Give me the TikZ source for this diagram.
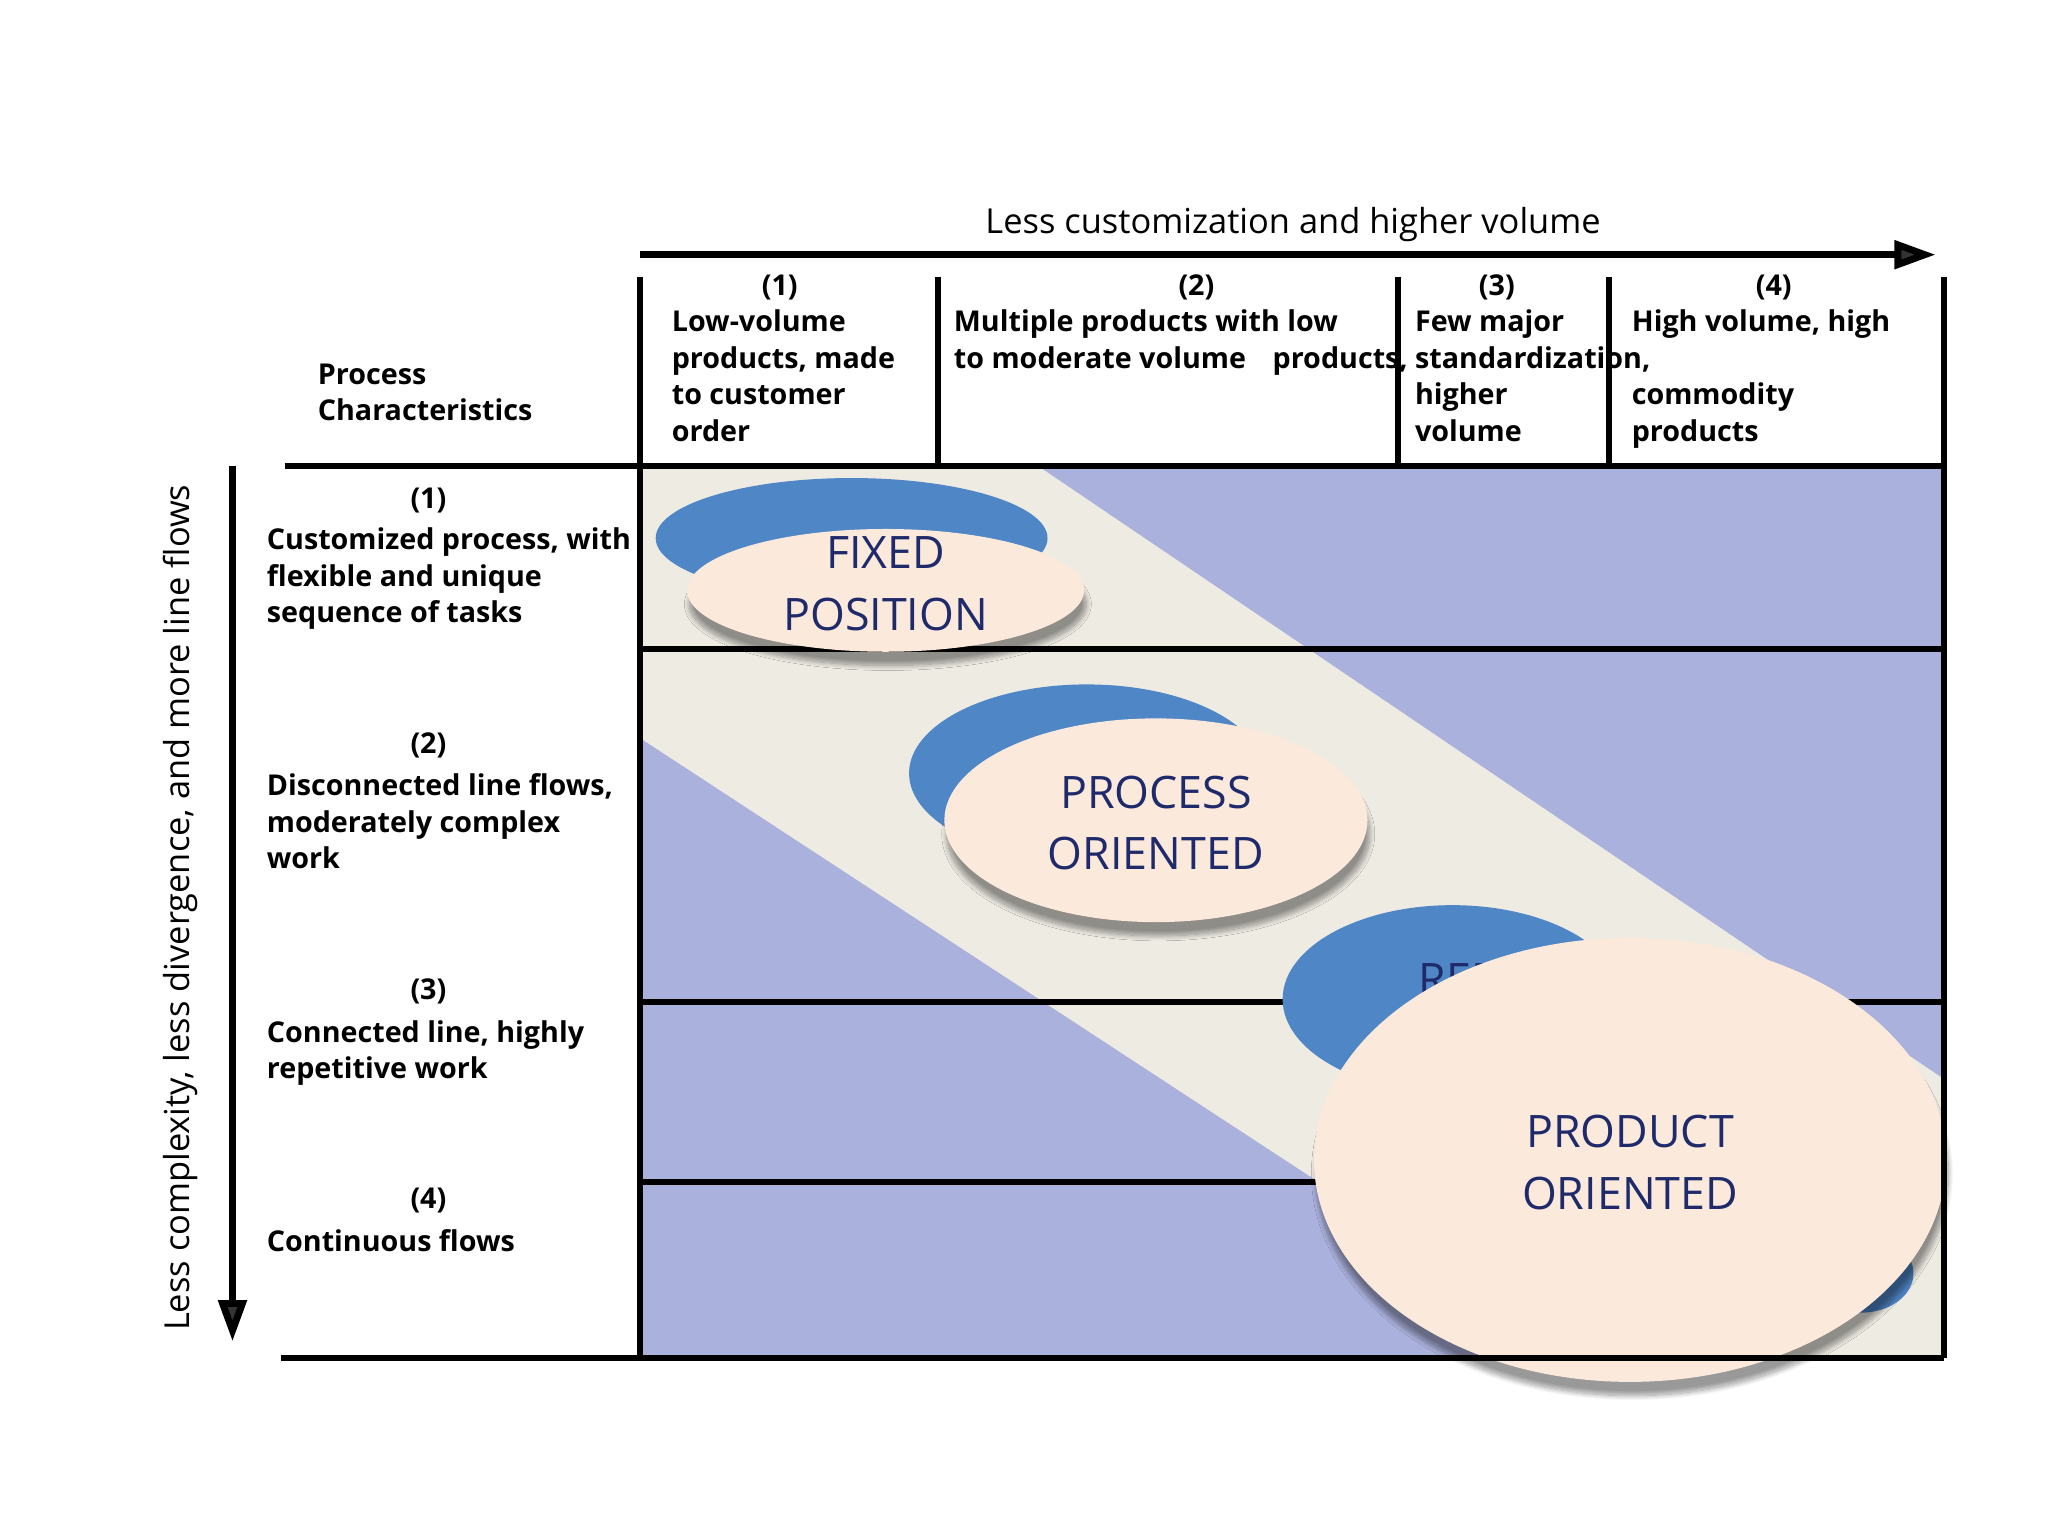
\documentclass[tikz,border=0pt]{standalone}
\usepackage{fontspec}
\setmainfont{Open Sans}
\usetikzlibrary{shadows.blur,arrows.meta}
\definecolor{bluefill}{HTML}{AAB1DD}
\definecolor{band}{HTML}{EEEBE3}
\definecolor{disc}{HTML}{4F86C6}
\definecolor{peach}{HTML}{FBE9DC}
\definecolor{navy}{HTML}{1F2A6B}
\begin{document}
\begin{tikzpicture}[x=0.02cm,y=-0.02cm,
  hd/.style={font=\fontsize{12.5}{15.9}\selectfont\bfseries,align=left,anchor=north west,inner sep=0},
  num/.style={font=\fontsize{12.5}{15.9}\selectfont\bfseries,anchor=base,inner sep=0},
  big/.style={font=\fontsize{19.5}{26.7}\selectfont,text=navy,align=center},
  rule/.style={line width=2.6pt},
  backdisc/.style={fill=disc,draw=none},
  frontdisc/.style={fill=peach,draw=none,blur shadow={shadow blur steps=12,shadow xshift=1pt,shadow yshift=-6pt}}]
\useasboundingbox (0,0) rectangle (1568,1176);
% background region
\fill[bluefill] (490,357) rectangle (1488,1040);
\begin{scope}
\clip (490,357) rectangle (1488,1040);
\fill[band] (490,357) -- (795,357) -- (1488,826) -- (1488,1040) -- (1216,1040) -- (490,565) -- cycle;
\end{scope}
% grid lines
\draw[rule] (490,497) -- (1488,497);
\draw[rule] (490,767) -- (1488,767);
\draw[rule] (490,905) -- (1488,905);
% discs
\fill[backdisc] (652,412) ellipse (150 and 46);
\fill[frontdisc] (678,452) ellipse (152 and 47);
\node[big] (fp) at (678,447) {FIXED\\POSITION};
\fill[backdisc] (832,592) ellipse (136 and 68);
\fill[frontdisc] (885,628) ellipse (162 and 78);
\node[big] (po) at (885,630) {PROCESS\\ORIENTED};
\fill[backdisc] (1112,765) ellipse (130 and 72);
\node[big,anchor=west] (re) at (1080,750) {REPETITIVE};
\fill[backdisc] (1425,975) ellipse (40 and 30);
\fill[frontdisc] (1248,888) ellipse (242 and 170);
\node[big] (pr) at (1248,890) {PRODUCT\\ORIENTED};
% frame
\draw[rule] (490,212) -- (490,1040);
\draw[rule] (1488,212) -- (1488,1040);
\draw[rule] (718,212) -- (718,357);
\draw[rule] (1070,212) -- (1070,357);
\draw[rule] (1232,212) -- (1232,357);
\draw[rule] (218,357) -- (1488,357);
\draw[rule] (215,1040) -- (1488,1040);
% top arrow
\coordinate (ta) at (490,195); \coordinate (tb) at (1482,195);
\draw[line width=3pt,-{Triangle[length=18pt,width=12pt]}] (ta) -- (tb);
\node[font=\fontsize{15}{18}\selectfont] (tl) at (990,172) {Less customization and higher volume};
% left arrow
\coordinate (la) at (178,357); \coordinate (lb) at (178,1027);
\draw[line width=3pt,-{Triangle[length=18pt,width=12pt]}] (la) -- (lb);
\node[font=\fontsize{15}{18}\selectfont,rotate=90] (ll) at (138,695) {Less complexity, less divergence, and more line flows};
% column headers
\node[num] (c1) at (597,226) {(1)};
\node[num] (c2) at (916,226) {(2)};
\node[num] (c3) at (1146,226) {(3)};
\node[num] (c4) at (1358,226) {(4)};
\node[hd] (h1) at (514,237) {Low-volume\\products, made\\to customer\\order};
\node[hd] (h2a) at (730,237) {Multiple products with low\\to moderate volume};
\node[hd] (h3b) at (974,265) {products, standardization,};
\node[hd] (h3a) at (1083,237) {Few major};
\node[hd] (h3c) at (1083,293) {higher\\volume};
\node[hd] (h4a) at (1249,237) {High volume, high};
\node[hd] (h4b) at (1249,293) {commodity\\products};
\node[hd] (pc) at (243,278) {Process\\Characteristics};
% row headers
\node[num] (r1) at (328,389) {(1)};
\node[hd] (t1) at (204,404) {Customized process, with\\flexible and unique\\sequence of tasks};
\node[num] (r2) at (328,577) {(2)};
\node[hd] (t2) at (204,592) {Disconnected line flows,\\moderately complex\\work};
\node[num] (r3) at (328,765) {(3)};
\node[hd] (t3) at (204,781) {Connected line, highly\\repetitive work};
\node[num] (r4) at (328,925) {(4)};
\node[hd] (t4) at (204,941) {Continuous flows};
\end{tikzpicture}
\end{document}
